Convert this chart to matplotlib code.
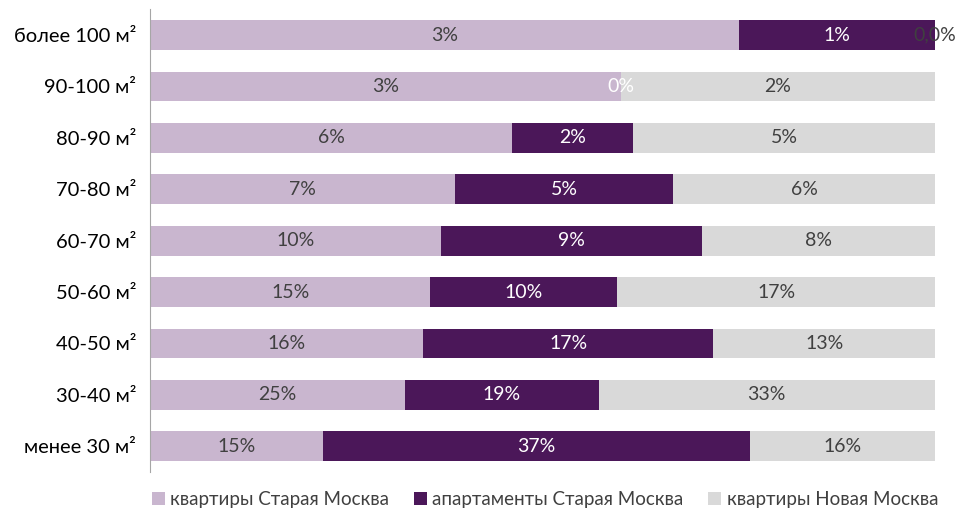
import matplotlib
matplotlib.use("Agg")
import matplotlib.pyplot as plt
import numpy as np

plt.rcParams['font.family'] = ['Lato', 'DejaVu Sans']

categories = ["менее 30 м²", "30-40 м²", "40-50 м²", "50-60 м²", "60-70 м²",
              "70-80 м²", "80-90 м²", "90-100 м²", "более 100 м²"]
series_names = ["квартиры Старая Москва", "апартаменты Старая Москва", "квартиры Новая Москва"]
flats_old = [15, 25, 16, 15, 10, 7, 6, 3, 3]
apart_old = [37, 19, 17, 10, 9, 5, 2, 0, 1]
flats_new = [16, 33, 13, 17, 8, 6, 5, 2, 0]
label_override = {(2, 8): "0,0%"}

colors = ["#C9B6CF", "#4B1759", "#D9D9D9"]
text_colors = ["#404040", "white", "#404040"]

data = np.array([flats_old, apart_old, flats_new], dtype=float)
totals = data.sum(axis=0)
shares = data / totals

fig = plt.figure(figsize=(9.61, 5.18), dpi=100)
ax = fig.add_axes([0.156, 0.089, 0.817, 0.893])

y = np.arange(len(categories))
left = np.zeros(len(categories))
handles = []
for s in range(3):
    h = ax.barh(y, shares[s], left=left, height=0.58, color=colors[s], label=series_names[s])
    handles.append(h)
    for i in range(len(categories)):
        lab = label_override.get((s, i), f"{int(data[s, i])}%")
        cx = left[i] + shares[s, i] / 2
        ax.text(cx, y[i], lab, ha='center', va='center', fontsize=14, color=text_colors[s])
    left = left + shares[s]

ax.set_xlim(0, 1)
ax.set_ylim(-0.5, len(categories) - 0.5)
ax.set_yticks(y)
ax.set_yticklabels(categories, fontsize=14.5, color='black')
ax.tick_params(axis='y', length=0, pad=10)
ax.set_xticks([])
for sp in ['top', 'right', 'bottom']:
    ax.spines[sp].set_visible(False)
ax.spines['left'].set_color('#A6A6A6')

fig.legend(handles=handles, loc='lower center', ncol=3, bbox_to_anchor=(0.567, -0.014),
           frameon=False, fontsize=13.5, handlelength=0.7, handleheight=0.7,
           handletextpad=0.3, columnspacing=1.3, labelcolor='#404040')

fig.savefig("out.png", dpi=100)
